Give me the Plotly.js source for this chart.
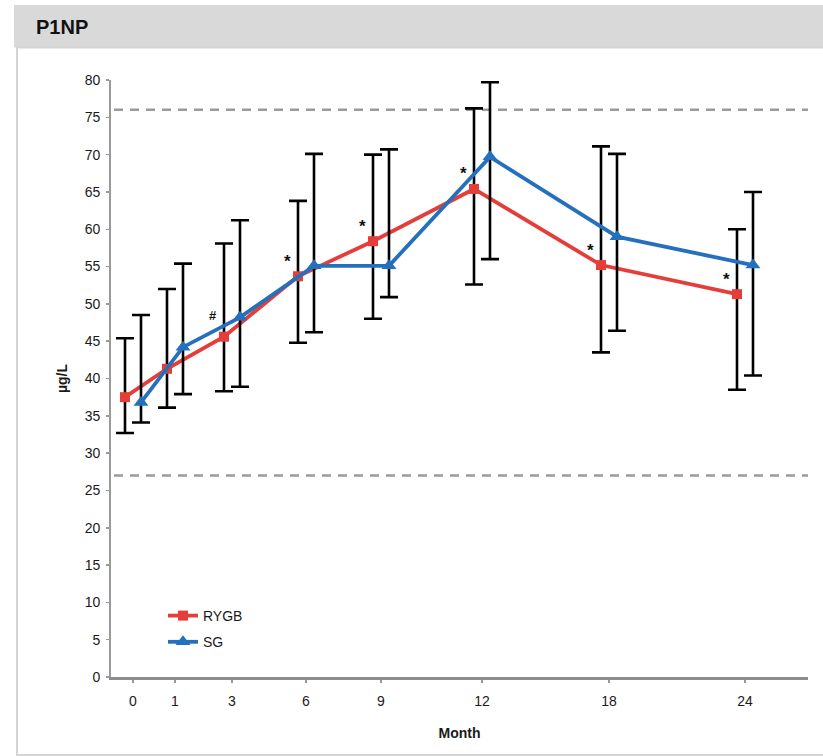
<!DOCTYPE html>
<html>
<head>
<meta charset="utf-8">
<script src="https://cdn.plot.ly/plotly-3.0.1.min.js"></script>
<style>
  html, body { margin: 0; padding: 0; background: #ffffff; }
  #chart { width: 823px; height: 756px; }
</style>
</head>
<body>
<div id="chart"></div>
<script>
// ---- data ----
var months = ['0', '1', '3', '6', '9', '12', '18', '24'];
var rygbMean  = [37.5, 41.3, 45.6, 53.7, 58.4, 65.4, 55.2, 51.3];
var rygbUpper = [45.4, 52.0, 58.1, 63.8, 70.0, 76.2, 71.1, 60.0];
var rygbLower = [32.7, 36.1, 38.3, 44.8, 48.0, 52.6, 43.5, 38.5];
var sgMean    = [36.8, 44.2, 48.2, 55.1, 55.1, 69.7, 59.0, 55.2];
var sgUpper   = [48.5, 55.4, 61.2, 70.1, 70.7, 79.7, 70.1, 65.0];
var sgLower   = [34.1, 37.9, 38.9, 46.2, 50.9, 56.0, 46.4, 40.4];
var sigMarks  = ['', '', '#', '*', '*', '*', '*', '*'];
var refUpper = 76;
var refLower = 27;

// ---- layout helpers (axis placement of the month categories) ----
var catPos = [22, 64, 121, 195, 270, 371, 498, 634];
var pairOffset = 8;

var xR = catPos.map(function (p) { return p - pairOffset; });
var xS = catPos.map(function (p) { return p + pairOffset; });
function diff(a, b) { return a.map(function (v, i) { return v - b[i]; }); }

var red = '#e53e3a';
var blue = '#2470bd';
var FONT = 'Liberation Sans, Arial, Helvetica, sans-serif';

var traces = [
  {
    type: 'scatter', mode: 'lines+markers', name: 'RYGB', legendgroup: 'r',
    x: xR, y: rygbMean, text: months,
    line: { color: red, width: 3.8 },
    marker: { symbol: 'square', size: 10, color: red },
    error_y: { type: 'data', symmetric: false,
      array: diff(rygbUpper, rygbMean), arrayminus: diff(rygbMean, rygbLower),
      color: '#000000', thickness: 2.6, width: 9 },
    cliponaxis: false
  },
  {
    type: 'scatter', mode: 'lines+markers', name: 'SG', legendgroup: 's',
    x: xS, y: sgMean, text: months,
    line: { color: blue, width: 3.8 },
    marker: { symbol: 'triangle-up', size: 13, color: blue },
    error_y: { type: 'data', symmetric: false,
      array: diff(sgUpper, sgMean), arrayminus: diff(sgMean, sgLower),
      color: '#000000', thickness: 2.6, width: 9 },
    cliponaxis: false
  }
];

var annotations = [];
sigMarks.forEach(function (m, i) {
  if (!m) return;
  annotations.push({
    xref: 'x', yref: 'y', x: xR[i], y: rygbMean[i],
    text: '<b>' + m + '</b>', showarrow: false,
    xshift: -11, yshift: (m === '#' ? 21 : 15),
    font: { family: FONT, size: (m === '#' ? 13 : 17), color: '#111111' }
  });
});

function px(x) { return (x - 111) / 697; }
function py(y) { return (677 - y) / 597; }

var shapes = [
  { type: 'rect', xref: 'paper', yref: 'paper', layer: 'below',
    x0: px(14), x1: px(830), y0: py(47.5), y1: py(5),
    fillcolor: '#d9d9d9', line: { width: 0 } },
  { type: 'rect', xref: 'paper', yref: 'paper', layer: 'below',
    x0: px(17), x1: px(840), y0: py(755), y1: py(47.5),
    fillcolor: '#ffffff', line: { color: '#d4d4d4', width: 2 } },
  { type: 'line', xref: 'paper', yref: 'y', layer: 'below',
    x0: px(114), x1: 1, y0: refUpper, y1: refUpper,
    line: { color: '#9a9a9a', width: 2.5, dash: '9px,7px' } },
  { type: 'line', xref: 'paper', yref: 'y', layer: 'below',
    x0: px(114), x1: 1, y0: refLower, y1: refLower,
    line: { color: '#9a9a9a', width: 2.5, dash: '9px,7px' } }
];

var layout = {
  width: 823, height: 756,
  margin: { l: 111, r: 15, t: 80, b: 79, pad: 0 },
  paper_bgcolor: '#ffffff', plot_bgcolor: 'rgba(0,0,0,0)',
  font: { family: FONT, size: 14, color: '#1a1a1a' },
  title: { text: '<b>P1NP</b>', x: 36 / 823, xanchor: 'left', xref: 'container',
    y: 1 - 27 / 756, yanchor: 'middle', yref: 'container',
    font: { family: FONT, size: 20, color: '#111111' } },
  showlegend: true,
  legend: { x: px(163), xanchor: 'left', y: py(600), yanchor: 'top',
    bgcolor: 'rgba(0,0,0,0)', borderwidth: 0, tracegroupgap: 5,
    font: { family: FONT, size: 14, color: '#1a1a1a' } },
  xaxis: {
    range: [0, 697], fixedrange: true,
    tickmode: 'array', tickvals: catPos, ticktext: months,
    ticks: 'outside', ticklen: 3, tickwidth: 1.5, tickcolor: '#999999',
    ticklabelstandoff: 7,
    showline: true, linecolor: '#8c8c8c', linewidth: 2.5,
    showgrid: false, zeroline: false,
    tickfont: { family: FONT, size: 14, color: '#1a1a1a' },
    title: { text: '<b>Month</b>', standoff: 20,
      font: { family: FONT, size: 14, color: '#1a1a1a' } }
  },
  yaxis: {
    range: [0, 80], fixedrange: true,
    tickmode: 'linear', tick0: 0, dtick: 5,
    ticks: 'outside', ticklen: 3, tickwidth: 1.5, tickcolor: '#999999',
    ticklabelstandoff: 3,
    showline: true, linecolor: '#9a9a9a', linewidth: 1.8,
    showgrid: false, zeroline: false,
    tickfont: { family: FONT, size: 14, color: '#1a1a1a' },
    title: { text: '<b>µg/L</b>', standoff: 14,
      font: { family: FONT, size: 14, color: '#1a1a1a' } }
  },
  shapes: shapes,
  annotations: annotations
};

Plotly.newPlot('chart', traces, layout, { displayModeBar: false, staticPlot: true });
</script>
</body>
</html>
